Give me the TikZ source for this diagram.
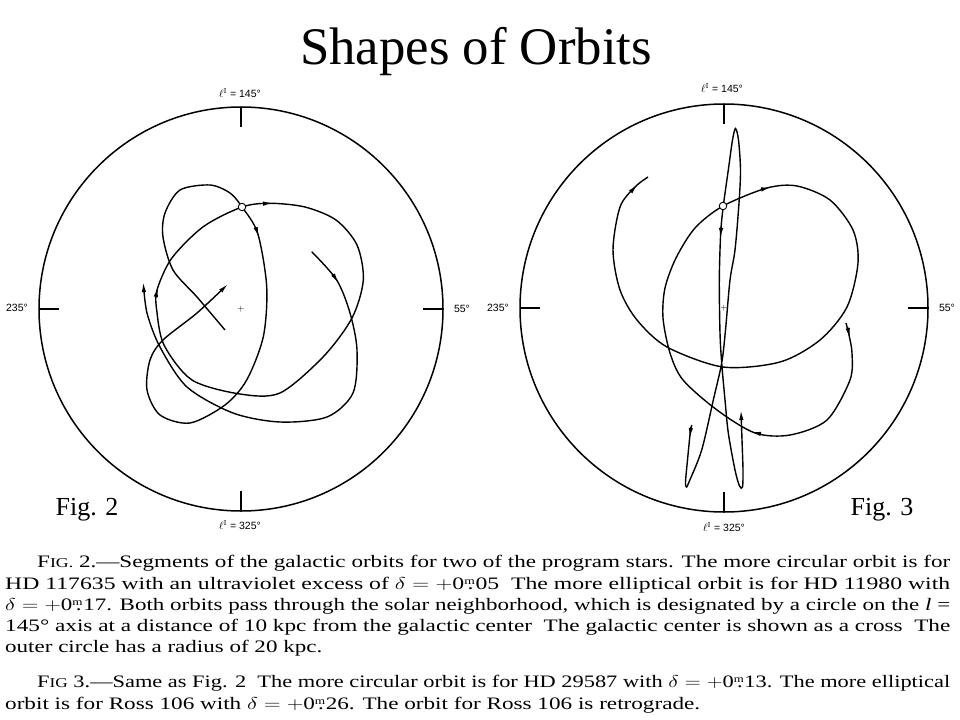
\documentclass[tikz,border=0pt]{standalone}
\usepackage{fontspec}
\usepackage{graphicx}
\newfontfamily\timesfont{Liberation Serif}
\newfontfamily\labfont{Liberation Sans}
\usetikzlibrary{arrows.meta}

\newcommand{\magdot}{\raisebox{0.5ex}{\fontsize{10bp}{10bp}\selectfont m}\kern-0.3em.\kern0.08em}
\newcommand{\figsc}[1]{F{\fontsize{13.5bp}{14bp}\selectfont #1}}

\tikzset{
  rim/.style={line width=1.5bp},
  orbit/.style={line width=1.4bp},
  endtip/.style={-{Latex[length=10bp,width=4.4bp]}},
  sun/.style={circle,draw,fill=white,line width=0.9bp,inner sep=0pt,minimum size=7.5bp},
  axislabel/.style={font=\labfont\fontsize{10.5bp}{12bp}\selectfont,inner sep=0pt},
  figlabel/.style={font=\timesfont\fontsize{26bp}{30bp}\selectfont,inner sep=0pt},
  capline/.style={font=\timesfont\fontsize{17.5bp}{20bp}\selectfont,anchor=base west,inner sep=0pt}
}

\begin{document}
\begin{tikzpicture}[x=1bp,y=-1bp]
    \useasboundingbox (0,0) rectangle (960,720);

    % Title
    \node[font=\timesfont\fontsize{52.8bp}{60bp}\selectfont, inner sep=0pt, anchor=base] (title) at (476,65) {Shapes of Orbits};

    %% Fig. 2
    % Outer circle and axis ticks
    \draw[rim] (241,309) circle[radius=202bp];
    \draw[rim] (241,107) -- (241,127);
    \draw[rim] (241,491) -- (241,511);
    \draw[rim] (39,309) -- (59,309);
    \draw[rim] (423,309) -- (443,309);
    \node[axislabel] (top2) at (240,93) {$\ell^{\mathrm{I}}$ = 145°};
    \node[axislabel] (bot2) at (240,525) {$\ell^{\mathrm{I}}$ = 325°};
    \node[axislabel] (left2) at (17,308) {235°};
    \node[axislabel] (right2) at (462,309) {55°};
    \node[font=\fontsize{9bp}{9bp}\selectfont, inner sep=0pt] (gc2) at (241,309) {+};

    % More circular orbit
    \draw[orbit] plot[smooth cycle] coordinates {
        (242,207) (270,203.3) (305,207) (336,220) (357,245) (363.3,280) (352,318)
        (323.3,356.7) (280,393) (240,394) (192,380) (164,345) (156.7,310) (157,290)
        (171.7,258.3) (203.3,226.7)};
    \draw[orbit, endtip] (263,203.7) -- (273,203.1);
    \draw[orbit, endtip] (155.5,298) -- (158,287);

    % More elliptical orbit
    \draw[orbit, endtip] plot[smooth] coordinates {
        (225,330) (197,297) (173,270) (163,237) (165,213) (180,190) (210,185)
        (230,193) (242,207) (257.7,233.3) (266.7,286.7) (263.3,336.7) (246.7,380)
        (225,405) (190,423) (160,415) (147,390) (150,360) (163,340) (197,313) (228,284)};
    \draw[orbit, endtip] (255.5,227) -- (258.8,237);

    % Outer segment
    \draw[orbit, endtip] plot[smooth] coordinates {
        (311.7,251.7) (336.7,280) (350,313) (357,350) (353,393) (327,417) (280,422)
        (233,413) (187,387) (160,347) (147,313) (143.3,282)};
    \draw[orbit, endtip] (333,274.5) -- (338.5,283);

    \node[sun] (sun2) at (242,207) {};
    \node[figlabel] (fig2) at (87,510) {Fig. 2};

    %% Fig. 3
    % Outer circle and axis ticks
    \draw[rim] (724,308) circle[radius=204bp];
    \draw[rim] (724,104) -- (724,124);
    \draw[rim] (724,492) -- (724,512);
    \draw[rim] (520,308) -- (540,308);
    \draw[rim] (908,308) -- (928,308);
    \node[axislabel] (top3) at (722,88) {$\ell^{\mathrm{I}}$ = 145°};
    \node[axislabel] (bot3) at (724,527) {$\ell^{\mathrm{I}}$ = 325°};
    \node[axislabel] (left3) at (498,308) {235°};
    \node[axislabel] (right3) at (947,308) {55°};
    \node[font=\fontsize{9bp}{9bp}\selectfont, inner sep=0pt] (gc3) at (724,308) {+};

    % More circular orbit
    \draw[orbit] plot[smooth] coordinates {
        (846,323) (849,335) (852,353) (850,380) (827,420) (790,435) (755,433) (717,410)
        (683,380) (670,353) (663,318) (665,288) (676,258) (695,228) (723,206) (767,188)
        (797,186) (830,200) (853,230) (858,263) (847,307) (820,340) (780,362) (723,367)
        (667,347) (637,320) (620,290) (613,250) (620,207) (635,187) (648,177)};
    \draw[orbit, endtip] (847.5,327) -- (849.8,338);
    \draw[orbit, endtip] (761,434) -- (751,431.8);
    \draw[orbit, endtip] (761,189.5) -- (771,187.2);
    \draw[orbit, endtip] (630.5,192) -- (637.5,184.5);

    % Retrograde orbit
    \draw[orbit, endtip] plot[smooth] coordinates {
        (691.7,425) (690,435) (687.5,460) (685.5,482) (686.5,487) (689,482) (701.7,450)
        (713.3,400) (721.7,363) (725.5,330) (730,280) (735,250) (739,203) (740.5,170)
        (738.5,140) (735.5,128.5) (732.5,140) (728.3,170) (723.3,206) (720.7,233)
        (719.3,280) (720,333) (721.7,363) (725,400) (728.3,433) (735,470) (739.5,486)
        (742.5,487) (743,470) (742,440) (741,410)};
    \draw[orbit, endtip] (691,427) -- (689.6,438);
    \draw[orbit, endtip] (721.2,227) -- (720.4,238);

    \node[sun] (sun3) at (723,206) {};
    \node[figlabel] (fig3) at (882,510) {Fig. 3};

    %% Caption
    \node[capline] (cap1) at (37,567) {\resizebox{913bp}{\height}{\figsc{IG.} 2.—Segments of the galactic orbits for two of the program stars. The more circular orbit is for}};
    \node[capline] (cap2) at (5,589) {\resizebox{945bp}{\height}{HD 117635 with an ultraviolet excess of $\delta = +$0\magdot05\enspace The more elliptical orbit is for HD 11980 with}};
    \node[capline] (cap3) at (5,610) {\resizebox{945bp}{\height}{$\delta = +$0\magdot17. Both orbits pass through the solar neighborhood, which is designated by a circle on the \textit{l} =}};
    \node[capline] (cap4) at (5,631) {\resizebox{945bp}{\height}{145° axis at a distance of 10 kpc from the galactic center\enspace The galactic center is shown as a cross\enspace The}};
    \node[capline] (cap5) at (5,652) {\resizebox{317bp}{\height}{outer circle has a radius of 20 kpc.}};
    \node[capline] (cap6) at (37,687) {\resizebox{913bp}{\height}{\figsc{IG} 3.—Same as Fig. 2\enspace The more circular orbit is for HD 29587 with $\delta = +$0\magdot13. The more elliptical}};
    \node[capline] (cap7) at (5,709) {\resizebox{695bp}{\height}{orbit is for Ross 106 with $\delta = +$0\magdot26. The orbit for Ross 106 is retrograde.}};

\end{tikzpicture}
\end{document}
